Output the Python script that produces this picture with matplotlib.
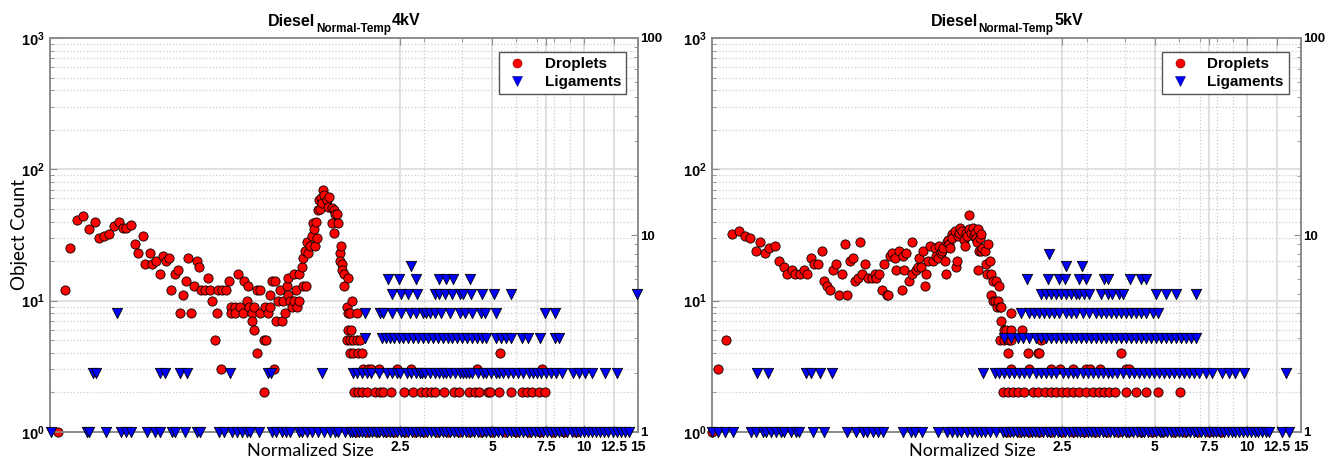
import matplotlib
matplotlib.use("Agg")
import matplotlib.pyplot as plt
from matplotlib.ticker import FixedLocator, NullFormatter, LogLocator
from matplotlib.lines import Line2D

plt.rcParams['font.family'] = ['Liberation Sans', 'DejaVu Sans']
plt.rcParams['mathtext.fontset'] = 'custom'
plt.rcParams['mathtext.rm'] = 'Liberation Sans:bold'
plt.rcParams['mathtext.bf'] = 'Liberation Sans:bold'

# ---- axes ticks ----
x_ticks = [2.5, 5, 7.5, 10, 12.5, 15]
x_tick_labels = ['2.5', '5', '7.5', '10', '12.5', '15']
x_minor_ticks = [3, 4, 6, 7, 8, 9]
left_ticks = [1, 10, 100, 1000]
left_tick_labels = [r'$\mathbf{10^{0}}$', r'$\mathbf{10^{1}}$', r'$\mathbf{10^{2}}$', r'$\mathbf{10^{3}}$']
right_ticks = [1, 10, 100]
right_tick_labels = ['1', '10', '100']

# ---- 4kV : droplets (scattered part) ----
p1_drop_x = [0.191, 0.201, 0.210, 0.221, 0.231, 0.241, 0.252, 0.260, 0.270, 0.280,
             0.291, 0.302, 0.311, 0.320, 0.332, 0.340, 0.350, 0.361, 0.369, 0.381,
             0.389, 0.399, 0.411, 0.420, 0.431, 0.440, 0.448, 0.461, 0.470, 0.480,
             0.488, 0.500, 0.509, 0.519, 0.533, 0.542, 0.551, 0.561, 0.576, 0.590,
             0.599, 0.608, 0.622, 0.632, 0.638, 0.649, 0.658, 0.678, 0.690, 0.702,
             0.702, 0.723, 0.723, 0.740, 0.753, 0.766, 0.777, 0.791, 0.797, 0.804,
             0.820, 0.820, 0.834, 0.836, 0.851, 0.857, 0.871, 0.871, 0.897, 0.897,
             0.904, 0.913, 0.931, 0.941, 0.945, 0.955, 0.974, 0.979, 0.988, 0.998,
             1.016, 1.029, 1.041, 1.055, 1.069, 1.077, 1.082, 1.096, 1.109, 1.126,
             1.131, 1.146, 1.154, 1.172, 1.175, 1.196, 1.205, 1.211, 1.226, 1.233,
             1.242, 1.257, 1.276, 1.290, 1.302, 1.312, 1.322, 1.329, 1.339, 1.356,
             1.363, 1.376, 1.383, 1.397, 1.407, 1.418, 1.443, 1.461, 1.471, 1.497,
             1.497, 1.519, 1.526, 1.536, 1.555, 1.573, 1.594, 1.597, 1.606, 1.614,
             1.622, 1.639, 1.646, 1.676, 1.676, 1.689, 1.697, 1.697, 1.718, 1.718,
             1.718, 1.731, 1.748, 1.761, 1.761, 1.807, 1.815, 1.821, 1.852, 1.875,
             5.33]
p1_drop_y = [1, 12, 25, 41, 44, 35, 40, 30, 31, 32,
             37, 40, 36, 36, 38, 27, 23, 31, 19, 23,
             19, 20, 16, 22, 20, 21, 12, 16, 17, 8,
             11, 14, 21, 8, 13, 20, 18, 12, 12, 15,
             12, 10, 5, 8, 12, 3, 12, 12, 14, 9,
             8, 9, 8, 16, 9, 8, 14, 10, 13, 9,
             8, 7, 6, 9, 12, 4, 12, 8, 5, 2,
             9, 5, 8, 11, 9, 14, 3, 14, 7, 10,
             12, 7, 10, 8, 13, 15, 11, 10, 9, 16,
             10, 12, 9, 10, 16, 18, 21, 13, 24, 13,
             28, 23, 26, 31, 39, 35, 26, 40, 30, 49,
             58, 50, 61, 55, 70, 64, 58, 52, 62, 51,
             39, 49, 33, 46, 46, 39, 23, 20, 26, 19,
             17, 16, 13, 9, 5, 15, 8, 6, 8, 5,
             4, 6, 10, 5, 4, 5, 8, 4, 5, 4,
             4]
# droplets in the low-count rows (x values per count)
p1_drop_rows = {
    1: [1.80, 1.95, 2.1, 2.25, 2.4, 2.6, 2.8, 3.0, 3.3, 3.6, 3.9, 4.2, 4.6, 5.0,
        5.5, 6.0, 6.6, 7.2, 7.9, 8.6, 9.4],
    2: [1.765, 1.829, 1.875, 1.955, 2.072, 2.151, 2.207, 2.335, 2.58, 2.76, 2.94,
        3.04, 3.15, 3.25, 3.48, 3.75, 3.89, 4.22, 4.39, 4.55, 4.84, 4.93, 5.26,
        5.78, 6.26, 6.52, 6.78, 7.14, 7.46],
    3: [1.889, 1.966, 2.012, 2.135, 2.45, 2.73, 4.47, 7.31],
}
# ligaments (right axis), x values per count
p1_lig_rows = {
    1: [0.181, 0.238, 0.242, 0.274, 0.306, 0.318, 0.330, 0.374, 0.398, 0.413,
        0.451, 0.462, 0.498, 0.544, 0.558, 0.640, 0.664, 0.705, 0.734, 0.763,
        0.791, 0.811, 0.864, 0.957, 0.986, 1.031, 1.063, 1.096, 1.172, 1.199,
        1.245, 1.293, 1.353, 1.414, 1.479, 1.536, 1.570, 1.655, 1.718,
        1.75, 1.79, 1.84, 1.88, 1.93, 1.98, 2.03, 2.09, 2.14, 2.2, 2.26, 2.32,
        2.38, 2.45, 2.52, 2.59, 2.66, 2.74, 2.82, 2.9, 2.98, 3.07, 3.16, 3.25,
        3.35, 3.45, 3.55, 3.66, 3.77, 3.88, 4.0, 4.12, 4.25, 4.38, 4.51, 4.65,
        4.79, 4.94, 5.09, 5.25, 5.41, 5.58, 5.75, 5.93, 6.11, 6.3, 6.5, 6.7,
        6.91, 7.12, 7.34, 7.57, 7.8, 8.04, 8.29, 8.55, 8.82, 9.1, 9.38, 9.67,
        9.97, 10.3, 10.6, 10.9, 11.3, 11.6, 12.0, 12.4, 12.8, 13.2, 13.6, 14.0],
    2: [0.249, 0.254, 0.411, 0.427, 0.480, 0.506, 0.698, 0.931, 0.947, 1.389,
        1.761, 1.807, 1.875, 1.947, 2.020, 2.138, 2.27, 2.36, 2.44, 2.50, 2.63,
        2.73, 2.83, 2.90, 2.96, 3.03, 3.14, 3.27, 3.37, 3.45, 3.53, 3.66, 3.78,
        3.92, 4.02, 4.10, 4.22, 4.31, 4.50, 4.67, 4.78, 4.95, 5.14, 5.29, 5.42,
        5.63, 5.85, 6.08, 6.32, 6.62, 6.79, 7.00, 7.23, 7.50, 7.78, 8.09, 8.50,
        9.17, 9.59, 10.1, 10.6, 11.7, 12.8],
    3: [1.93, 2.18, 2.25, 2.32, 2.40, 2.48, 2.56, 2.66, 2.76, 2.87, 2.98, 3.09,
        3.21, 3.33, 3.45, 3.59, 3.71, 3.85, 4.00, 4.15, 4.31, 4.47, 4.64, 4.77,
        5.14, 5.35, 5.55, 5.77, 6.25, 6.54, 7.17, 8.04, 8.25],
    4: [0.299, 1.93, 2.15, 2.21, 2.36, 2.53, 2.69, 2.83, 2.98, 3.04, 3.14, 3.25,
        3.42, 3.64, 3.92, 4.07, 4.31, 4.61, 4.73, 5.14, 7.46, 8.04],
    5: [2.36, 2.53, 2.66, 2.84, 3.27, 3.37, 3.50, 3.71, 3.92, 4.02, 4.27, 4.64,
        5.07, 5.77, 14.9],
    6: [2.29, 2.48, 2.83, 3.35, 3.53, 3.73, 4.25],
    7: [2.73],
}

# ---- 5kV : droplets (scattered part) ----
p2_drop_x = [0.180, 0.189, 0.200, 0.209, 0.220, 0.230, 0.239, 0.250, 0.259, 0.268,
             0.277, 0.289, 0.297, 0.308, 0.316, 0.328, 0.335, 0.349, 0.358, 0.366,
             0.378, 0.386, 0.398, 0.410, 0.416, 0.427, 0.437, 0.445, 0.458, 0.467,
             0.477, 0.487, 0.497, 0.507, 0.519, 0.528, 0.538, 0.545, 0.555, 0.566,
             0.582, 0.597, 0.611, 0.619, 0.632, 0.643, 0.656, 0.668, 0.676, 0.684,
             0.697, 0.711, 0.716, 0.734, 0.747, 0.756, 0.762, 0.775, 0.791, 0.809,
             0.811, 0.834, 0.845, 0.851, 0.864, 0.875, 0.890, 0.897, 0.913, 0.922,
             0.947, 0.959, 0.969, 0.980, 0.992, 1.007, 1.012, 1.019, 1.035, 1.042,
             1.050, 1.061, 1.071, 1.078, 1.088, 1.093, 1.114, 1.128, 1.134, 1.142,
             1.154, 1.163, 1.178, 1.190, 1.202, 1.210, 1.217, 1.238, 1.242, 1.254,
             1.273, 1.286, 1.293, 1.309, 1.312, 1.325, 1.329, 1.339, 1.343, 1.353,
             1.360, 1.372, 1.397, 1.407, 1.422, 1.432, 1.450, 1.468, 1.468, 1.488,
             1.488, 1.502, 1.517, 1.525, 1.540, 1.555, 1.562, 1.562, 1.578, 1.578,
             1.610, 1.618, 1.639, 1.659, 1.672, 1.702, 1.702, 1.702, 1.848, 1.927,
             2.08, 2.10, 2.13, 3.88]
p2_drop_y = [1, 3, 5, 32, 34, 31, 30, 24, 28, 23,
             25, 26, 20, 18, 16, 17, 16, 16, 17, 16,
             21, 19, 19, 24, 14, 13, 12, 17, 19, 11,
             16, 27, 11, 20, 21, 14, 15, 28, 16, 19,
             15, 15, 16, 15, 16, 12, 19, 11, 11, 22,
             23, 21, 17, 24, 12, 22, 17, 23, 14, 28,
             16, 17, 18, 21, 18, 24, 13, 16, 20, 26,
             20, 25, 22, 21, 26, 23, 24, 25, 20, 16,
             28, 29, 27, 25, 32, 30, 34, 18, 20, 31,
             33, 36, 34, 29, 26, 33, 31, 35, 45, 33,
             36, 31, 33, 30, 28, 35, 17, 24, 30, 24,
             32, 25, 24, 19, 16, 27, 20, 16, 11, 14,
             10, 10, 14, 9, 10, 13, 9, 5, 7, 9,
             6, 5, 6, 4, 5, 8, 6, 5, 6, 4,
             4, 4, 5, 4]
p2_drop_rows = {
    1: [1.65, 1.8, 1.95, 2.1, 2.3, 2.5, 2.7, 2.95, 3.2, 3.5, 3.8, 4.1, 4.5, 4.9,
        5.3, 5.8, 6.3, 6.9, 7.5, 8.2],
    2: [1.598, 1.659, 1.722, 1.787, 1.880, 2.001, 2.076, 2.186, 2.295, 2.382,
        2.494, 2.58, 2.70, 2.84, 2.98, 3.14, 3.29, 3.42, 3.55, 3.72, 4.04, 4.34,
        4.70, 5.11, 6.05],
    3: [1.702, 1.947, 2.295, 2.45, 2.71, 2.98, 3.07, 3.31, 4.03, 4.13],
}
p2_lig_rows = {
    1: [0.180, 0.189, 0.199, 0.211, 0.242, 0.251, 0.264, 0.270, 0.281, 0.292,
        0.302, 0.308, 0.326, 0.337, 0.345, 0.383, 0.417, 0.496, 0.531, 0.560,
        0.575, 0.604, 0.628, 0.648, 0.758, 0.800, 0.826, 0.868, 0.983, 1.051,
        1.092, 1.129, 1.172, 1.217, 1.264, 1.312, 1.353, 1.394, 1.450, 1.514,
        1.606, 1.64, 1.69, 1.73, 1.78, 1.83, 1.88, 1.93, 1.99, 2.04, 2.1, 2.16,
        2.22, 2.28, 2.35, 2.41, 2.48, 2.55, 2.63, 2.7, 2.78, 2.86, 2.94, 3.02,
        3.11, 3.2, 3.29, 3.39, 3.48, 3.58, 3.69, 3.79, 3.9, 4.02, 4.13, 4.25,
        4.37, 4.5, 4.63, 4.76, 4.9, 5.04, 5.19, 5.34, 5.49, 5.65, 5.81, 5.98,
        6.15, 6.33, 6.51, 6.7, 6.89, 7.09, 7.3, 7.51, 7.72, 7.95, 8.18, 8.41,
        8.66, 8.91, 9.16, 9.43, 9.7, 9.98, 10.3, 10.6, 10.9, 11.2, 11.5, 11.8,
        13.0, 13.7],
    2: [0.252, 0.275, 0.364, 0.379, 0.404, 0.444, 1.377, 1.502, 1.559, 1.618,
        1.680, 1.744, 1.810, 1.880, 1.951, 2.05, 2.13, 2.21, 2.30, 2.39, 2.51,
        2.60, 2.70, 2.80, 2.91, 3.02, 3.14, 3.26, 3.38, 3.51, 3.64, 3.78, 3.93,
        4.13, 4.29, 4.45, 4.62, 4.80, 4.98, 5.17, 5.37, 5.57, 5.78, 6.01, 6.24,
        6.47, 6.72, 6.98, 7.35, 7.71, 8.31, 8.73, 9.13, 9.77, 13.4],
    3: [1.618, 1.702, 1.788, 1.856, 1.951, 2.05, 2.13, 2.21, 2.30, 2.39, 2.48,
        2.57, 2.67, 2.77, 2.88, 2.99, 3.10, 3.22, 3.34, 3.47, 3.60, 3.74, 3.88,
        4.03, 4.18, 4.34, 4.51, 4.68, 4.86, 5.04, 5.24, 5.44, 5.64, 5.86, 6.08,
        6.31, 6.55, 6.80],
    4: [1.833, 1.951, 2.026, 2.10, 2.18, 2.26, 2.35, 2.44, 2.57, 2.67, 2.77,
        2.91, 3.06, 3.22, 3.34, 3.47, 3.60, 3.74, 3.88, 4.03, 4.18, 4.34, 4.51,
        4.68, 4.92, 5.11],
    5: [2.13, 2.21, 2.30, 2.39, 2.48, 2.57, 2.67, 2.77, 2.84, 2.94, 3.06, 3.34,
        3.51, 3.64, 3.83, 3.93, 5.04, 5.46, 5.88, 6.80],
    6: [1.917, 2.25, 2.44, 2.55, 2.84, 2.99, 3.42, 3.51, 4.15, 4.51, 4.68],
    7: [2.56, 2.90],
    8: [2.26],
}

GRID = '#dddddd'
SPINE = '#8c8c8c'
SANS = ['Lato', 'DejaVu Sans']


def rows_to_xy(rows):
    xs, ys = [], []
    for count, xvals in rows.items():
        xs += xvals
        ys += [count] * len(xvals)
    return xs, ys


def draw_panel(ax, voltage, drop_x, drop_y, drop_rows, lig_rows, show_ylabel):
    ax.set_xscale('log')
    ax.set_yscale('log')
    ax.set_xlim(0.18, 15)
    ax.set_ylim(1, 1000)

    ax2 = ax.twinx()
    ax2.set_yscale('log')
    ax2.set_ylim(1, 100)

    rx, ry = rows_to_xy(drop_rows)
    ax.scatter(drop_x + rx, drop_y + ry, s=44, c='#ff0000', edgecolors='black',
               linewidths=0.6, clip_on=False, zorder=3)
    lx, ly = rows_to_xy(lig_rows)
    ax2.scatter(lx, ly, marker='v', s=55, c='#0000ff', edgecolors='black',
                linewidths=0.6, clip_on=False, zorder=3)

    # x axis
    ax.xaxis.set_major_locator(FixedLocator(x_ticks))
    ax.xaxis.set_minor_locator(FixedLocator(x_minor_ticks))
    ax.xaxis.set_minor_formatter(NullFormatter())
    ax.set_xticklabels(x_tick_labels, fontweight='bold', fontsize=10)

    # left axis
    ax.yaxis.set_major_locator(FixedLocator(left_ticks))
    ax.yaxis.set_minor_locator(LogLocator(base=10, subs=range(2, 10)))
    ax.yaxis.set_minor_formatter(NullFormatter())
    ax.set_yticklabels(left_tick_labels, fontsize=10.5)

    # right axis
    ax2.yaxis.set_major_locator(FixedLocator(right_ticks))
    ax2.yaxis.set_minor_locator(LogLocator(base=10, subs=range(2, 10)))
    ax2.yaxis.set_minor_formatter(NullFormatter())
    ax2.set_yticklabels(right_tick_labels, fontweight='bold', fontsize=9.5)

    ax.set_axisbelow(True)
    ax.grid(True, which='major', color=GRID, linestyle='-', linewidth=1.3)
    ax.grid(True, which='minor', color='#cccccc', linestyle=':', linewidth=0.9)

    ax.tick_params(which='both', direction='in', top=True, color=SPINE)
    ax.tick_params(axis='x', pad=6)
    ax.tick_params(which='major', length=5)
    ax.tick_params(which='minor', length=3)
    ax2.tick_params(which='both', direction='in', color=SPINE, pad=1.5)
    ax2.tick_params(which='major', length=5)
    ax2.tick_params(which='minor', length=3)
    for a in (ax, ax2):
        for sp in a.spines.values():
            sp.set_color(SPINE)
            sp.set_linewidth(1.2)

    # title: Diesel_{Normal-Temp}4kV
    t1 = ax.text(0.371, 1.022, 'Diesel', transform=ax.transAxes, ha='left',
                 va='bottom', fontsize=11.5, fontweight='bold')
    t2 = ax.annotate('Normal-Temp', xy=(1, 0), xycoords=t1, xytext=(0.3, -4.2),
                     textcoords='offset points', ha='left', va='bottom',
                     fontsize=8.5, fontweight='bold')
    ax.annotate(voltage, xy=(1, 0), xycoords=t2, xytext=(0.6, 4.8),
                textcoords='offset points', ha='left', va='bottom',
                fontsize=11.5, fontweight='bold')

    ax.text(0.442, -0.047, 'Normalized Size', transform=ax.transAxes,
            ha='center', va='center', fontsize=13, family=SANS)
    if show_ylabel:
        ax.text(-0.052, 0.5, 'Object Count', transform=ax.transAxes, rotation=90,
                ha='center', va='center', fontsize=13.5, family=SANS)

    handles = [
        Line2D([], [], ls='', marker='o', markersize=6.5, color='#ff0000',
               markeredgecolor='#700000', markeredgewidth=0.4),
        Line2D([], [], ls='', marker='v', markersize=6.5, color='#0000ff',
               markeredgecolor='#000070', markeredgewidth=0.4),
    ]
    leg = ax2.legend(handles, ['Droplets', 'Ligaments'], loc='upper right',
                     bbox_to_anchor=(0.98, 0.965), frameon=True, fancybox=False,
                     edgecolor='#555555', framealpha=1,
                     prop={'weight': 'bold', 'size': 11}, handlelength=1.6,
                     handletextpad=1.0, borderpad=0.35, labelspacing=0.25,
                     borderaxespad=0)
    leg.get_frame().set_linewidth(1.0)


fig = plt.figure(figsize=(13.26, 4.58), dpi=100)
ax_a = fig.add_axes([50 / 1326, 26 / 458, 588 / 1326, 394 / 458])
ax_b = fig.add_axes([712 / 1326, 26 / 458, 589 / 1326, 394 / 458])

draw_panel(ax_a, '4kV', p1_drop_x, p1_drop_y, p1_drop_rows, p1_lig_rows, True)
draw_panel(ax_b, '5kV', p2_drop_x, p2_drop_y, p2_drop_rows, p2_lig_rows, False)

fig.savefig('out.png', dpi=100)
